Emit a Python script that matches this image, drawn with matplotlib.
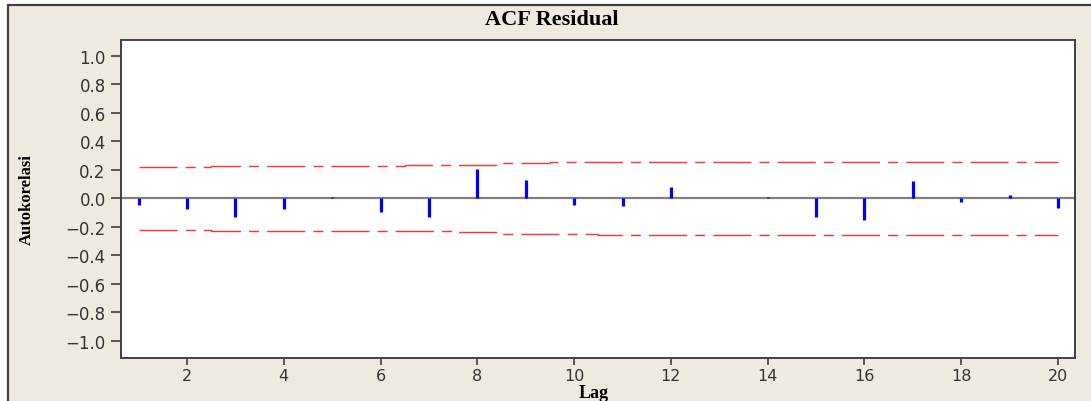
import matplotlib.pyplot as plt
from matplotlib.patches import Rectangle

plt.rcParams['lines.scale_dashes'] = False

# ACF values of the residuals, lag 1..20
lags = list(range(1, 21))
acf = [-0.045, -0.075, -0.13, -0.075, 0.01, -0.095, -0.13, 0.205, 0.13, -0.045,
       -0.05, 0.08, 0.0, 0.01, -0.13, -0.15, 0.12, -0.025, 0.025, -0.065]
# upper confidence limit (lower limit is the negative)
limit = [0.221, 0.222, 0.226, 0.226, 0.226, 0.227, 0.232, 0.238, 0.247, 0.253,
         0.254, 0.254, 0.254, 0.255, 0.255, 0.255, 0.258, 0.258, 0.258, 0.258]
yticks = [1.0, 0.8, 0.6, 0.4, 0.2, 0.0, -0.2, -0.4, -0.6, -0.8, -1.0]
xticks = [2, 4, 6, 8, 10, 12, 14, 16, 18, 20]

bg = '#eeeae0'
fig = plt.figure(figsize=(10.91, 4.02), dpi=100, facecolor='white')

# beige panel with dark frame (extends past the right / bottom edge)
fig.patches.append(Rectangle((8 / 1091, -0.1), 1.2, 1 - 6 / 402 + 0.1,
                             transform=fig.transFigure, facecolor=bg,
                             edgecolor='#404040', linewidth=1.6, zorder=-1))

ax = fig.add_axes([121 / 1091, 1 - 359 / 402, (1075 - 121) / 1091, (359 - 41) / 402])
ax.set_zorder(2)
ax.set_facecolor('white')

ax.axhline(0, color='#808080', linewidth=1.6, zorder=1)
ax.vlines(lags, 0, acf, color='#0000ff', linewidth=2.3, zorder=3)

dash = (0, (27.5, 5.8, 7.2, 5.8))
lower = [-v for v in limit]
ax.plot(lags, limit, drawstyle='steps-mid', color='#ff3030', linewidth=1.0,
        linestyle=dash, zorder=2)
ax.plot(lags, lower, drawstyle='steps-mid', color='#ff3030', linewidth=1.0,
        linestyle=dash, zorder=2)

ax.set_xlim(0.636, 20.35)
ax.set_ylim(-1.12, 1.112)
ax.set_yticks(yticks)
ax.set_yticklabels([f'{v:.1f}'.replace('-', '\u2212') for v in yticks])
ax.set_xticks(xticks)

for s in ax.spines.values():
    s.set_color('#404040')
    s.set_linewidth(1.4)
ax.tick_params(axis='y', direction='out', length=7, width=1.2, color='#404040',
               labelsize=12, labelcolor='#333333', pad=4)
ax.tick_params(axis='x', direction='out', length=5, width=1.2, color='#404040',
               labelsize=11.5, labelcolor='#333333', pad=2)

serif = 'Liberation Serif'
fig.text(552 / 1091, 1 - 20 / 402, 'ACF Residual', ha='center', va='center',
         fontfamily=serif, fontweight='bold', fontsize=16)
fig.text(594 / 1091, 1 - 394 / 402, 'Lag', ha='center', va='center',
         fontfamily=serif, fontweight='bold', fontsize=13)
fig.text(27 / 1091, 1 - 200 / 402, 'Autokorelasi', ha='center', va='center',
         rotation=90, fontfamily=serif, fontweight='bold', fontsize=12)

fig.savefig('out.png', dpi=100, facecolor=fig.get_facecolor())
